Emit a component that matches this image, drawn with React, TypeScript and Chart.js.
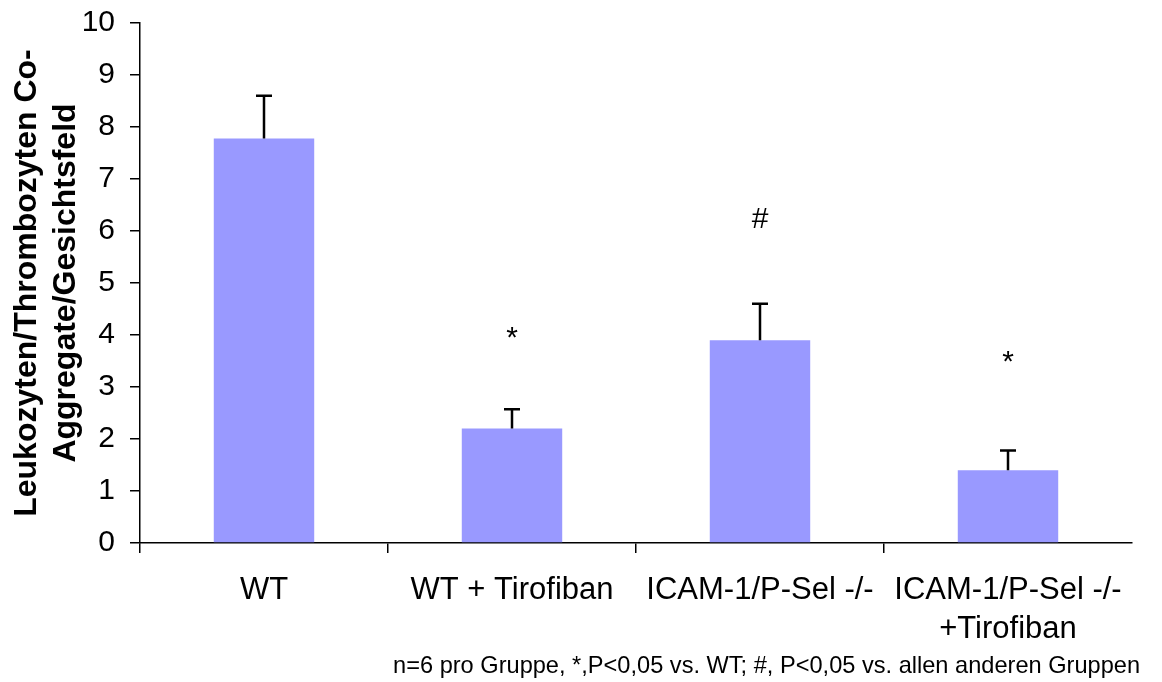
import React, { useEffect, useRef } from "react";
import { Chart, registerables } from "chart.js";

Chart.register(...registerables);

const categories: (string | string[])[] = [
  "WT",
  "WT + Tirofiban",
  "ICAM-1/P-Sel -/-",
  ["ICAM-1/P-Sel -/-", "+Tirofiban"],
];
const means = [7.78, 2.2, 3.9, 1.4];
const errors = [0.82, 0.37, 0.7, 0.38];
const sigMarks = ["", "*", "#", "*"];
const sigAt = [0, 3.76, 6.06, 3.3];
const yTitle = ["Leukozyten/Thrombozyten Co-", "Aggregate/Gesichtsfeld"];
const footnote = "n=6 pro Gruppe, *,P<0,05 vs. WT; #, P<0,05 vs. allen anderen Gruppen";
const yTicks = [0, 1, 2, 3, 4, 5, 6, 7, 8, 9, 10];

const FONT = "'Liberation Sans', Arial, Helvetica, sans-serif";

const extrasPlugin = {
  id: "extras",
  afterDatasetsDraw(chart: any) {
    const ctx = chart.ctx;
    const meta = chart.getDatasetMeta(0);
    const y = chart.scales.y;
    ctx.save();
    // error bars
    ctx.strokeStyle = "#000";
    ctx.lineWidth = 2.5;
    meta.data.forEach((bar: any, i: number) => {
      const x = bar.x;
      const y0 = y.getPixelForValue(means[i]);
      const y1 = y.getPixelForValue(means[i] + errors[i]);
      ctx.beginPath();
      ctx.moveTo(x, y0);
      ctx.lineTo(x, y1);
      ctx.moveTo(x - 8, y1);
      ctx.lineTo(x + 8, y1);
      ctx.stroke();
    });
    // significance marks
    ctx.fillStyle = "#000";
    ctx.font = `30px ${FONT}`;
    ctx.textAlign = "center";
    ctx.textBaseline = "alphabetic";
    meta.data.forEach((bar: any, i: number) => {
      if (!sigMarks[i]) return;
      ctx.fillText(sigMarks[i], bar.x, y.getPixelForValue(sigAt[i]));
    });
    // y title
    ctx.font = `bold 32px ${FONT}`;
    const cy = (chart.chartArea.top + chart.chartArea.bottom) / 2;
    const xs = [36, 75];
    yTitle.forEach((t, i) => {
      ctx.save();
      ctx.translate(xs[i], cy);
      ctx.rotate(-Math.PI / 2);
      ctx.textAlign = "center";
      ctx.textBaseline = "alphabetic";
      ctx.fillText(t, 0, 0);
      ctx.restore();
    });
    // footnote
    ctx.font = `23.6px ${FONT}`;
    ctx.textAlign = "right";
    ctx.textBaseline = "alphabetic";
    ctx.fillText(footnote, 1140, 673);
    ctx.restore();
  },
};

export default function App() {
  const ref = useRef<HTMLCanvasElement>(null);
  useEffect(() => {
    if (!ref.current) return;
    const chart = new Chart(ref.current, {
      type: "bar",
      data: {
        labels: categories,
        datasets: [
          {
            data: means,
            backgroundColor: "#9999FF",
            borderWidth: 0,
            categoryPercentage: 1,
            barPercentage: 0.405,
          },
        ],
      },
      options: {
        responsive: false,
        animation: false,
        layout: { padding: { top: 23, right: 30, left: 0, bottom: 0 } },
        plugins: {
          legend: { display: false },
          tooltip: { enabled: false },
          title: { display: false },
        },
        scales: {
          x: {
            afterFit: (s: any) => {
              s.height = 139;
              s.paddingLeft = 0;
              s.paddingRight = 0;
            },
            grid: {
              display: true,
              offset: true,
              drawOnChartArea: false,
              drawTicks: true,
              tickLength: 10,
              lineWidth: 1.5,
              color: (c: any) => (c.type === "tick" ? "#000" : "rgba(0,0,0,0)"),
            },
            border: { display: true, color: "#000", width: 1.5 },
            ticks: {
              color: "#000",
              font: { family: FONT, size: 31, lineHeight: 1.25 },
              padding: 18,
              maxRotation: 0,
              autoSkip: false,
            },
          },
          y: {
            min: 0,
            max: 10,
            afterFit: (s: any) => {
              s.width = 140;
              s.paddingTop = 0;
              s.paddingBottom = 0;
            },
            afterBuildTicks: (s: any) => {
              s.ticks = yTicks.map((v) => ({ value: v }));
            },
            grid: {
              display: true,
              drawOnChartArea: false,
              drawTicks: true,
              tickLength: 10,
              lineWidth: 1.5,
              color: "#000",
            },
            border: { display: true, color: "#000", width: 1.5 },
            ticks: {
              color: "#000",
              font: { family: FONT, size: 30 },
              padding: 15,
            },
          },
        },
      },
      plugins: [extrasPlugin],
    });
    return () => chart.destroy();
  }, []);
  return (
    <div style={{ position: "absolute", left: 0, top: 0, width: 1162, height: 682, background: "#fff" }}>
      <canvas ref={ref} width={1162} height={682} style={{ width: 1162, height: 682 }} />
    </div>
  );
}
